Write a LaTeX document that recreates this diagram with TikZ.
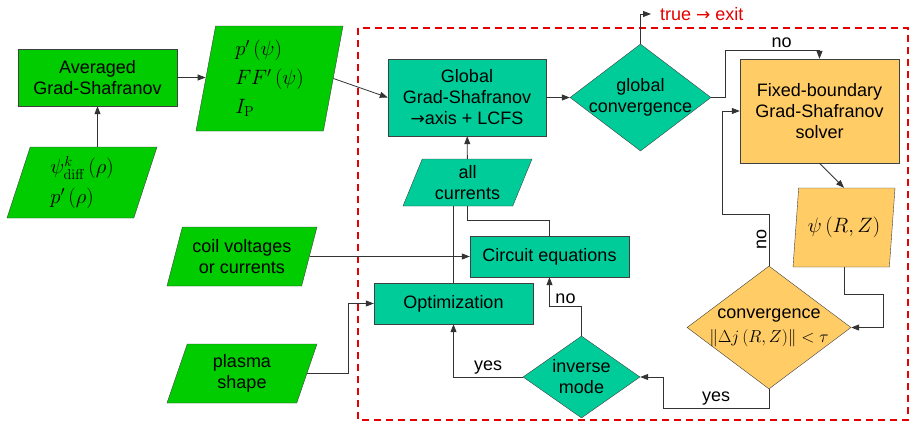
\documentclass[tikz,border=0pt]{standalone}
\usepackage{amsmath,amssymb}
\usepackage[no-math]{fontspec}
\setmainfont{Liberation Sans}
\newfontfamily\arrowfont{DejaVu Sans}
\usepackage{tikz}
\usetikzlibrary{shapes.geometric, arrows.meta, positioning, calc}

\definecolor{gsgreen}{RGB}{0,204,0}
\definecolor{gsteal}{RGB}{0,204,153}
\definecolor{gsorange}{RGB}{255,204,102}
\definecolor{gsred}{RGB}{230,0,0}

\newcommand{\toarrow}{{\arrowfont\fontsize{17}{21}\selectfont →}}

\begin{document}
\begin{tikzpicture}[
    x=1pt, y=-1pt,
    every node/.style={font=\fontsize{18}{21}\selectfont},
    block/.style={draw=black!75, rectangle, align=center, inner sep=1pt},
    io/.style={draw=black!75, trapezium, trapezium stretches body, align=center, inner xsep=0pt, inner ysep=1pt},
    decide/.style={draw=black!75, diamond, inner sep=0pt},
    dtext/.style={align=center, inner sep=0pt},
    gbox/.style={fill=gsgreen},
    tbox/.style={fill=gsteal},
    obox/.style={fill=gsorange},
    arrow/.style={-{Triangle[length=8pt, width=6pt]}, draw=black!80, line width=0.8pt},
    link/.style={draw=black!80, line width=0.8pt},
    lbl/.style={inner sep=2pt},
    loopbox/.style={draw=gsred, line width=1.8pt, dash pattern=on 7pt off 5pt},
]
\useasboundingbox (0,0) rectangle (910,423);

% outer loop
\draw[loopbox] (358,28) rectangle (908,420);

% inputs (left)
\node[block, gbox, minimum width=159, minimum height=57] (avgGS) at (97.5,77.5) {Averaged\\Grad-Shafranov};
\node[io, gbox, trapezium left angle=67, trapezium right angle=113, minimum width=150, minimum height=71,
      font=\fontsize{21}{30}\selectfont, align=left] (psidiff) at (82,182.5)
      {$\psi_{\mathrm{diff}}^{k}\left(\rho\right)$\\$p'\left(\rho\right)$};
\node[io, gbox, trapezium left angle=76, trapezium right angle=104, minimum width=147, minimum height=105,
      font=\fontsize{21}{29}\selectfont, align=left] (profiles) at (269.5,78.5)
      {$p'\left(\psi\right)$\\$FF'\left(\psi\right)$\\$I_{\mathrm{P}}$};
\node[io, gbox, trapezium left angle=67, trapezium right angle=113, minimum width=150, minimum height=59] (coil) at (242,256.5) {coil voltages\\or currents};
\node[io, gbox, trapezium left angle=63, trapezium right angle=117, minimum width=150, minimum height=59] (plasma) at (242,373.5) {plasma\\shape};

% free-boundary loop
\node[block, tbox, minimum width=158, minimum height=77] (globalGS) at (467,97.5) {Global\\Grad-Shafranov\\\toarrow axis + LCFS};
\node[decide, tbox, minimum width=141, minimum height=107,
      label={[dtext]center:global\\convergence}] (gconv) at (640.5,97.5) {};
\node[io, tbox, trapezium left angle=62, trapezium right angle=118, minimum width=129, minimum height=47] (allcur) at (467.5,182.5) {all\\currents};
\node[block, tbox, minimum width=159, minimum height=41] (circuit) at (549.5,256.5) {Circuit equations};
\node[block, tbox, minimum width=159, minimum height=41] (optim) at (453.5,303.5) {Optimization};
\node[decide, tbox, minimum width=117, minimum height=82,
      label={[dtext]center:inverse\\mode}] (invmode) at (581.5,377) {};

% fixed-boundary loop
\node[block, obox, minimum width=159, minimum height=104] (fbGS) at (819.5,111) {Fixed-boundary\\Grad-Shafranov\\solver};
\node[io, obox, trapezium left angle=76, trapezium right angle=104, minimum width=102, minimum height=79,
      font=\fontsize{20}{23}\selectfont] (psiRZ) at (844,227.5) {$\psi\left(R,Z\right)$};
\node[decide, obox, minimum width=164, minimum height=123,
      label={[dtext, font=\fontsize{18}{24}\selectfont]center:convergence\\$\left\|\Delta j\left(R,Z\right)\right\|<\tau$}] (conv) at (769,327.5) {};

\node[anchor=west, inner xsep=9pt, text=gsred] (exitlbl) at (651,14) {true \toarrow{} exit};
\coordinate (nojoin) at (725,50);
\coordinate (rzbend) at (883,294);
\coordinate (nobend) at (722,214);
\coordinate (yesbend) at (663,408);
\coordinate (nobend2) at (549.5,306);

% connectors
\draw[arrow] (psidiff.north -| avgGS) -- (avgGS);
\draw[arrow] (avgGS.east) -- (avgGS.east -| profiles.west);
\draw[arrow] (profiles.east) -- (globalGS.west);
\draw[arrow] (globalGS) -- (gconv);
\draw[arrow] (gconv.north) |- (exitlbl.west);
\draw[arrow] (gconv.east) -| (nojoin) -| node[lbl, above, pos=0.3] {no} (fbGS.north);
\draw[arrow] (fbGS.south) -- (psiRZ.north);
\draw[arrow] (psiRZ.south) |- (rzbend) |- (conv.east);
\draw[arrow] (conv.north) |- node[lbl, rotate=90, anchor=south, pos=0.25] {no} (nobend) |- (fbGS.west);
\draw[arrow] (conv.south) |- node[lbl, above, pos=0.75] {yes} (yesbend) |- (invmode.east);
\draw[arrow] (invmode.north) |- node[lbl, above, pos=0.75] {no} (nobend2) -- (circuit.south);
\draw[arrow] (invmode.west) -| node[lbl, above, pos=0.25] {yes} (optim.south);
\draw[arrow] (allcur) -- (globalGS);
\draw[link] (optim.north) -- (optim.north |- allcur.south);
\draw[link] (circuit.north) -- ++(0,-15) -| (allcur.south);
\draw[arrow] (coil.east) -- (circuit.west);
\draw[arrow] (plasma.east) -- ++(41,0) |- (optim.west);
\end{tikzpicture}
\end{document}
